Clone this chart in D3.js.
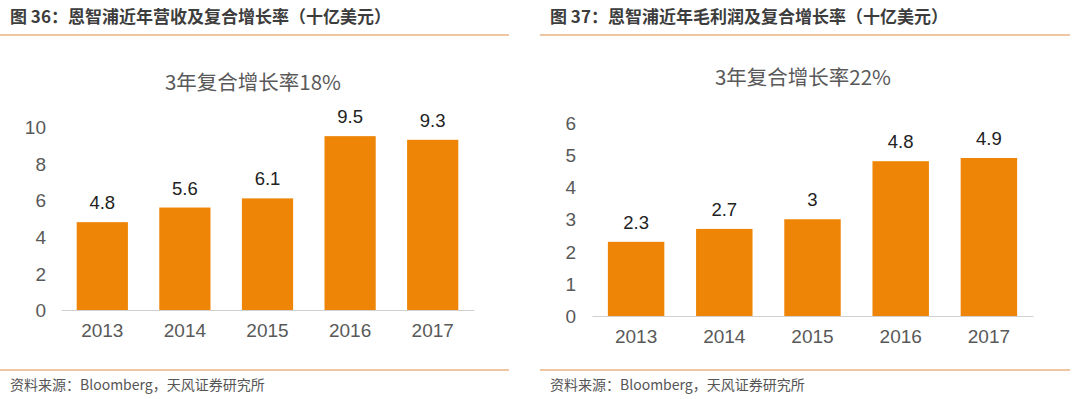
<!DOCTYPE html>
<html>
<head>
  <meta charset="UTF-8">
  <title>恩智浦营收及毛利润</title>
  <script src="https://d3js.org/d3.v7.min.js"></script>
  <style>
    body { margin: 0; background: #fff; }
    svg { display: block; font-family: "Noto Sans CJK SC", "Liberation Sans", Arial, sans-serif; }
    .title { font-size: 17px; font-weight: bold; fill: #3d3d3d; }
    .foot { font-size: 14px; fill: #555; }
    .sub { font-size: 20.5px; fill: #595959; }
    .axis text { font-size: 19px; fill: #595959; font-family: "Liberation Sans", Arial, sans-serif; }
    .val { font-size: 18.5px; fill: #222; font-family: "Liberation Sans", Arial, sans-serif; }
  </style>
</head>
<body>
  <svg id="chart" width="1080" height="399"></svg>

  <script>
    // 数据
    var years = ["2013", "2014", "2015", "2016", "2017"];
    var revenue = [4.8, 5.6, 6.1, 9.5, 9.3];
    var grossProfit = [2.3, 2.7, 3, 4.8, 4.9];
    var revenueTicks = [0, 2, 4, 6, 8, 10];
    var profitTicks = [0, 1, 2, 3, 4, 5, 6];

    var titles = ["图 36：恩智浦近年营收及复合增长率（十亿美元）", "图 37：恩智浦近年毛利润及复合增长率（十亿美元）"];
    var subtitles = ["3年复合增长率18%", "3年复合增长率22%"];
    var source = "资料来源：Bloomberg，天风证券研究所";

    var svg = d3.select("#chart");
    var lineColor = "#e9b383";
    var barColor = "#ef8506";

    function panel(cfg) {
      var g = svg.append("g");

      g.append("text").attr("class", "title")
        .attr("x", cfg.x0 + 10).attr("y", 23).text(cfg.title);
      g.append("line")
        .attr("x1", cfg.x0).attr("x2", cfg.x1)
        .attr("y1", 35).attr("y2", 35)
        .attr("stroke", lineColor).attr("stroke-width", 1.5);

      g.append("line")
        .attr("x1", cfg.x0).attr("x2", cfg.x1)
        .attr("y1", 370).attr("y2", 370)
        .attr("stroke", lineColor).attr("stroke-width", 1.5);
      g.append("text").attr("class", "foot")
        .attr("x", cfg.x0 + 10).attr("y", 390).text(source);

      g.append("text").attr("class", "sub")
        .attr("x", cfg.subX).attr("y", cfg.subY)
        .attr("text-anchor", "middle").text(cfg.sub);

      var x = d3.scaleBand().domain(years)
        .range([cfg.left, cfg.right])
        .paddingInner(cfg.pad).paddingOuter(cfg.pad / 2);
      var y = d3.scaleLinear().domain([0, d3.max(cfg.ticks)])
        .range([cfg.bottom, cfg.top]);

      // 纵轴刻度文字
      var ya = g.append("g").attr("class", "axis")
        .attr("transform", "translate(" + cfg.tickX + ",0)")
        .call(d3.axisLeft(y).tickValues(cfg.ticks).tickFormat(d3.format("d"))
          .tickSize(0).tickPadding(0));
      ya.select(".domain").remove();
      ya.selectAll("text").attr("dy", "0.35em");

      // 横轴
      var xa = g.append("g").attr("class", "axis")
        .attr("transform", "translate(0," + cfg.bottom + ")")
        .call(d3.axisBottom(x).tickSize(0).tickPadding(14));
      xa.select(".domain").attr("stroke", "#d0d0d0").attr("stroke-width", 1);

      var data = years.map(function(d, i) { return { year: d, v: cfg.values[i] }; });

      g.selectAll("rect.bar").data(data).enter()
        .append("rect").attr("class", "bar")
        .attr("x", function(d) { return x(d.year); })
        .attr("y", function(d) { return y(d.v); })
        .attr("width", x.bandwidth())
        .attr("height", function(d) { return cfg.bottom - y(d.v); })
        .attr("fill", barColor);

      g.selectAll("text.val").data(data).enter()
        .append("text").attr("class", "val")
        .attr("x", function(d) { return x(d.year) + x.bandwidth() / 2; })
        .attr("y", function(d) { return y(d.v) - 13; })
        .attr("text-anchor", "middle")
        .text(function(d) { return d.v; });
    }

    panel({
      x0: 0, x1: 509, title: titles[0], sub: subtitles[0], subX: 253, subY: 90,
      left: 61, right: 474, pad: 0.38, top: 127, bottom: 310,
      ticks: revenueTicks, values: revenue, tickX: 46
    });

    panel({
      x0: 540, x1: 1070, title: titles[1], sub: subtitles[1], subX: 803, subY: 85,
      left: 592, right: 1033, pad: 0.36, top: 122.5, bottom: 316,
      ticks: profitTicks, values: grossProfit, tickX: 576
    });
  </script>
</body>
</html>
